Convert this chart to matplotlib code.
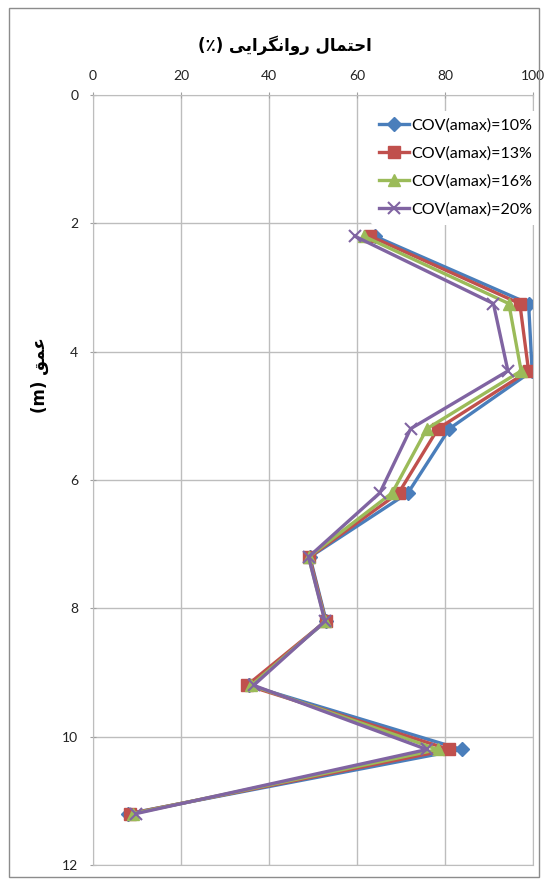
import matplotlib
matplotlib.use("Agg")
import matplotlib.pyplot as plt
from matplotlib.patches import Rectangle

depth = [2.2, 3.25, 4.3, 5.2, 6.2, 7.2, 8.2, 9.2, 10.2, 11.2]
cov10 = [64, 99, 99.8, 81, 71.6, 49.3, 53, 35.5, 83.8, 8]
cov13 = [63, 97, 99, 78.4, 69.5, 49.2, 52.9, 35, 81, 8.4]
cov16 = [61.5, 94.5, 97.3, 75.9, 68, 49, 52.8, 36, 78.4, 9]
cov20 = [59.5, 91, 94.3, 72.2, 65.2, 49, 52.7, 36.5, 75.9, 9.7]
labels = ["COV(amax)=10%", "COV(amax)=13%", "COV(amax)=16%", "COV(amax)=20%"]
x_ticks = [0, 20, 40, 60, 80, 100]
y_ticks = [0, 2, 4, 6, 8, 10, 12]
title = "احتمال روانگرایی (٪)"
ylabel = "عمق (m)"

# presentation forms: isolated, final, initial, medial (None = does not join forward)
FORMS = {
    "ا": (0xFE8D, 0xFE8E, None, None),
    "ر": (0xFEAD, 0xFEAE, None, None),
    "و": (0xFEED, 0xFEEE, None, None),
    "ح": (0xFEA1, 0xFEA2, 0xFEA3, 0xFEA4),
    "ت": (0xFE95, 0xFE96, 0xFE97, 0xFE98),
    "م": (0xFEE1, 0xFEE2, 0xFEE3, 0xFEE4),
    "ل": (0xFEDD, 0xFEDE, 0xFEDF, 0xFEE0),
    "ن": (0xFEE5, 0xFEE6, 0xFEE7, 0xFEE8),
    "گ": (0xFB92, 0xFB93, 0xFB94, 0xFB95),
    "ی": (0xFBFC, 0xFBFD, 0xFBFE, 0xFBFF),
    "ع": (0xFEC9, 0xFECA, 0xFECB, 0xFECC),
    "ق": (0xFED5, 0xFED6, 0xFED7, 0xFED8),
}
MIRROR = {"(": ")", ")": "("}


def shape_rtl(text):
    out = []
    for i, ch in enumerate(text):
        if ch not in FORMS:
            out.append(MIRROR.get(ch, ch))
            continue
        prev = text[i - 1] if i > 0 else ""
        nxt = text[i + 1] if i + 1 < len(text) else ""
        joins_prev = prev in FORMS and FORMS[prev][2] is not None
        joins_next = nxt in FORMS and FORMS[ch][2] is not None
        iso, fin, ini, med = FORMS[ch]
        if joins_prev and joins_next:
            code = med
        elif joins_prev:
            code = fin
        elif joins_next:
            code = ini
        else:
            code = iso
        out.append(chr(code))
    # reverse for visual order, keep latin runs in order
    words = "".join(out).split(" ")
    fixed = []
    for w in words:
        if any(c.isascii() and c.isalpha() for c in w):
            fixed.append(w[::-1].translate(str.maketrans("()", ")(")))
        else:
            fixed.append(w)
    return " ".join(fixed)[::-1]


plt.rcParams["font.family"] = ["Lato", "DejaVu Sans"]

fig = plt.figure(figsize=(5.47, 8.85), dpi=100)
ax = fig.add_axes([93 / 547, 1 - 865 / 885, 440 / 547, 770 / 885])

colors = ["#4A7EBB", "#C0504D", "#9BBB59", "#8064A2"]
markers = ["D", "s", "^", "x"]
sizes = [7, 8, 8, 8]
for vals, lab, c, m, s in zip([cov10, cov13, cov16, cov20], labels, colors, markers, sizes):
    ax.plot(vals, depth, color=c, marker=m, markersize=s, linewidth=2.4,
            markeredgewidth=1.5 if m == "x" else 1, label=lab)

ax.set_xlim(0, 100)
ax.set_ylim(12, 0)
ax.set_xticks(x_ticks)
ax.set_yticks(y_ticks)
ax.xaxis.tick_top()
ax.tick_params(axis="both", direction="inout", length=5, color="#A0A0A0",
               labelsize=10, labelcolor="#222222")
ax.tick_params(axis="x", pad=7)
ax.tick_params(axis="y", pad=8)
ax.grid(True, color="#BDBDBD", linewidth=1)
for sp in ax.spines.values():
    sp.set_color("#BDBDBD")
ax.set_axisbelow(True)

leg = ax.legend(loc="upper right", bbox_to_anchor=(1.035, 0.99), frameon=True,
                fontsize=11.5, handlelength=1.9, labelspacing=0.85,
                borderpad=0.5, handletextpad=0.15)
leg.get_frame().set_edgecolor("none")
leg.get_frame().set_facecolor("white")
leg.get_frame().set_alpha(1)

fig.text(285 / 547, 1 - 45 / 885, shape_rtl(title), ha="center", va="center",
         fontsize=12, fontweight="bold", family=["DejaVu Sans"])
fig.text(40 / 547, 1 - 375 / 885, shape_rtl(ylabel), ha="center", va="center",
         rotation=90, fontsize=12, fontweight="bold", family=["DejaVu Sans"])

fig.patches.append(Rectangle((9 / 547, 8 / 885), 530 / 547, 869 / 885,
                             transform=fig.transFigure, fill=False,
                             edgecolor="#8C8C8C", linewidth=1))

fig.savefig("out.png", dpi=100)
